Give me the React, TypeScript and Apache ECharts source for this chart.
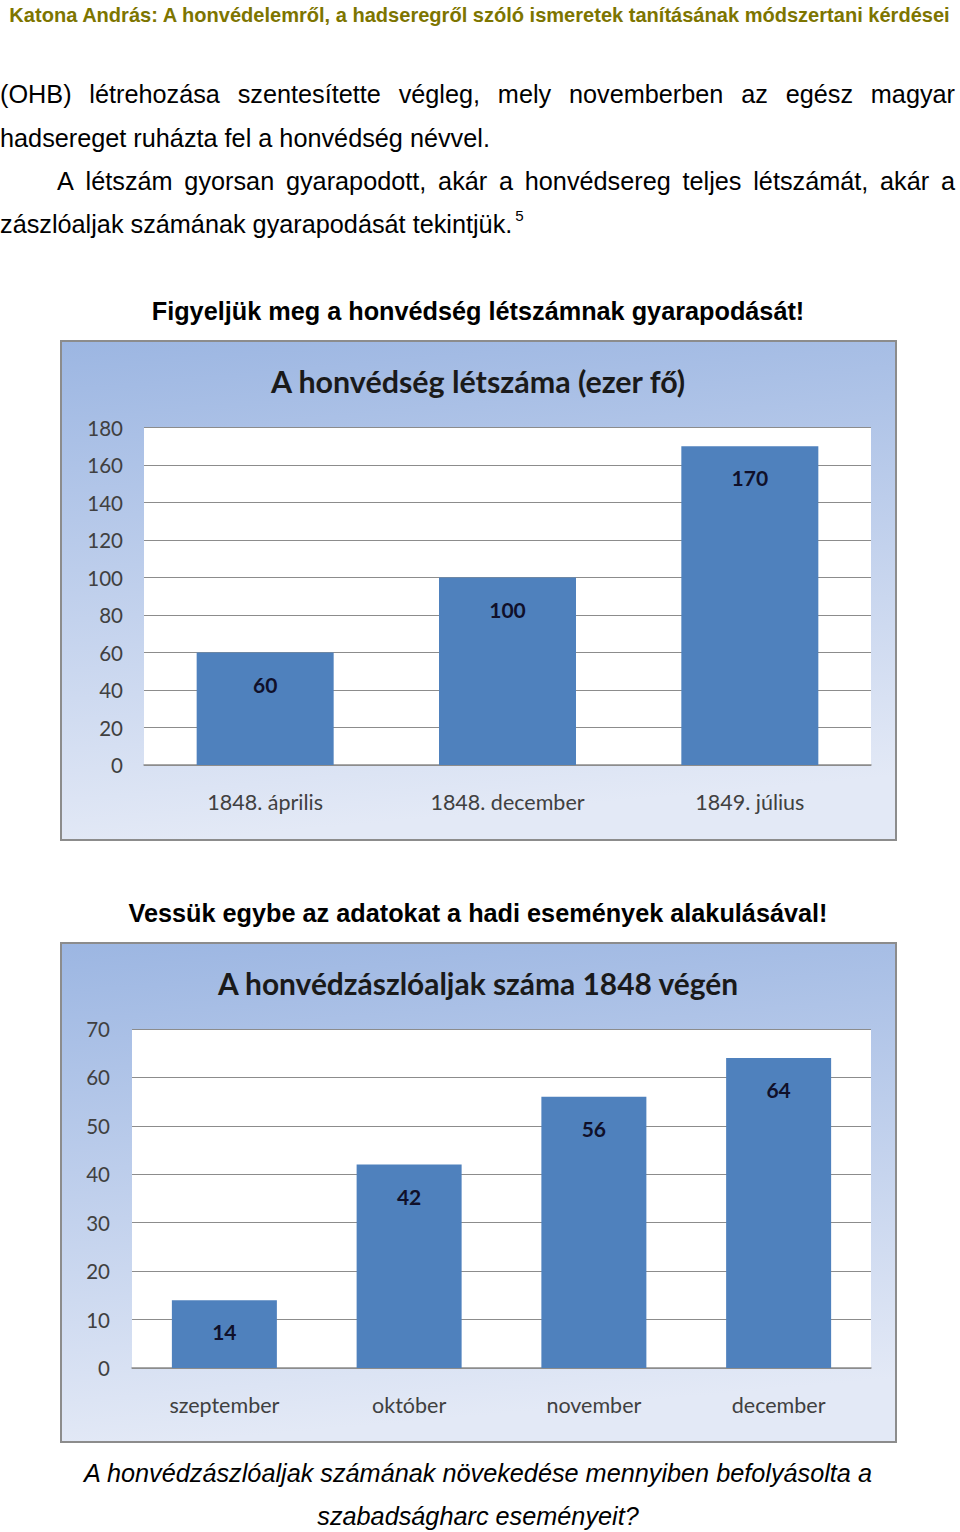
import React, { useEffect, useRef } from 'react';
import * as echarts from 'echarts';

// ---------- Data ----------
const chartATitle = 'A honvédség létszáma (ezer fő)';
const chartACategories = ['1848. április', '1848. december', '1849. július'];
const chartAValues = [60, 100, 170];
const chartAMax = 180;
const chartAInterval = 20;

const chartBTitle = 'A honvédzászlóaljak száma 1848 végén';
const chartBCategories = ['szeptember', 'október', 'november', 'december'];
const chartBValues = [14, 42, 56, 64];
const chartBMax = 70;
const chartBInterval = 10;

// ---------- Document text ----------
const headerText =
  'Katona András: A honvédelemről, a hadseregről szóló ismeretek tanításának módszertani kérdései';
const bodyLine1 = '(OHB) létrehozása szentesítette végleg, mely novemberben az egész magyar';
const bodyLine2 = 'hadsereget ruházta fel a honvédség névvel.';
const bodyLine3 = 'A létszám gyorsan gyarapodott, akár a honvédsereg teljes létszámát, akár a';
const bodyLine4 = 'zászlóaljak számának gyarapodását tekintjük.';
const footnoteMark = '5';
const headingA = 'Figyeljük meg a honvédség létszámnak gyarapodását!';
const headingB = 'Vessük egybe az adatokat a hadi események alakulásával!';
const questionLine1 = 'A honvédzászlóaljak számának növekedése mennyiben befolyásolta a';
const questionLine2 = 'szabadságharc eseményeit?';

const DOC_FONT = 'Liberation Sans';
const CHART_FONT = 'Lato';

let measureCtx: CanvasRenderingContext2D | null = null;
function measure(text: string, size: number, weight = 'normal', style = 'normal', family = DOC_FONT) {
  if (!measureCtx) measureCtx = document.createElement('canvas').getContext('2d');
  if (!measureCtx) return text.length * size * 0.5;
  measureCtx.font = `${style} ${weight} ${size}px "${family}"`;
  return measureCtx.measureText(text).width;
}
function fitSize(text: string, target: number, weight = 'normal', style = 'normal', family = DOC_FONT) {
  const w = measure(text, 100, weight, style, family);
  return (100 * target) / w;
}

function justified(text: string, x0: number, x1: number, y: number, size: number) {
  const words = text.split(' ');
  const widths = words.map((w) => measure(w, size));
  const total = widths.reduce((a, b) => a + b, 0);
  const gap = (x1 - x0 - total) / (words.length - 1);
  let x = x0;
  return words.map((w, i) => {
    const el = {
      type: 'text',
      x,
      y,
      style: {
        text: w,
        fontFamily: DOC_FONT,
        fontSize: size,
        fill: '#000',
        align: 'left',
        verticalAlign: 'middle',
      },
    };
    x += widths[i] + gap;
    return el;
  });
}

function txt(text: string, x: number, y: number, size: number, opts: any = {}) {
  return {
    type: 'text',
    x,
    y,
    z: 10,
    style: {
      text,
      fontFamily: opts.family || DOC_FONT,
      fontSize: size,
      fontWeight: opts.weight || 'normal',
      fontStyle: opts.style || 'normal',
      fill: opts.fill || '#000',
      align: opts.align || 'left',
      verticalAlign: 'middle',
    },
  };
}

function frame(y: number) {
  return {
    type: 'rect',
    z: -10,
    shape: { x: 61, y, width: 835, height: 499 },
    style: {
      fill: new echarts.graphic.LinearGradient(0, 0, 0.15, 1, [
        { offset: 0, color: '#9cb6e2' },
        { offset: 1, color: '#e3e9f6' },
      ]),
      stroke: '#8c8c8c',
      lineWidth: 2,
    },
  };
}

export default function App() {
  const ref = useRef<HTMLDivElement>(null);

  useEffect(() => {
    if (!ref.current) return;
    const chart = echarts.init(ref.current, null, { renderer: 'svg' });

    const headerSize = fitSize(headerText, 943, 'bold');
    const bodySize = fitSize(bodyLine2, 490);
    const headingSize = fitSize(headingA, 653, 'bold');
    const questionSize = fitSize(questionLine1, 789, 'normal', 'italic');
    const line4W = measure(bodyLine4, bodySize);
    const titleASize = fitSize(chartATitle, 416, 'bold', 'normal', CHART_FONT);
    const titleBSize = fitSize(chartBTitle, 522, 'bold', 'normal', CHART_FONT);

    const graphic: any[] = [
      frame(341),
      frame(943),
      txt(headerText, 479.5, 15, headerSize, { weight: 'bold', fill: '#7d7500', align: 'center' }),
      ...justified(bodyLine1, 0, 955, 94, bodySize),
      txt(bodyLine2, 0, 138, bodySize),
      ...justified(bodyLine3, 57, 955, 181, bodySize),
      txt(bodyLine4, 0, 224, bodySize),
      txt(footnoteMark, line4W + 3, 215, bodySize * 0.6),
      txt(headingA, 478, 311, headingSize, { weight: 'bold', align: 'center' }),
      txt(headingB, 478, 913, headingSize, { weight: 'bold', align: 'center' }),
      txt(chartATitle, 478, 381, titleASize, { weight: 'bold', family: CHART_FONT, fill: '#1a1a1a', align: 'center' }),
      txt(chartBTitle, 478, 983, titleBSize, { weight: 'bold', family: CHART_FONT, fill: '#1a1a1a', align: 'center' }),
      txt(questionLine1, 478, 1473, questionSize, { style: 'italic', align: 'center' }),
      txt(questionLine2, 478, 1516, questionSize, { style: 'italic', align: 'center' }),
    ];

    const yLabel = { fontFamily: CHART_FONT, fontSize: 20.5, color: '#404040' };
    const xLabel = { fontFamily: CHART_FONT, fontSize: 21.5, color: '#404040' };
    const barLabel = {
      show: true,
      position: 'insideTop',
      distance: 21,
      fontFamily: CHART_FONT,
      fontSize: 21,
      fontWeight: 'bold',
      color: '#10102a',
    };

    const option: any = {
      animation: false,
      graphic,
      grid: [
        { left: 144, top: 427.5, width: 727, height: 337.5, show: true, backgroundColor: '#ffffff', borderWidth: 0 },
        { left: 132, top: 1029, width: 739, height: 339, show: true, backgroundColor: '#ffffff', borderWidth: 0 },
      ],
      xAxis: [
        {
          type: 'category',
          gridIndex: 0,
          data: chartACategories,
          axisLine: { lineStyle: { color: '#8c8c8c', width: 1.5 } },
          axisTick: { show: false },
          axisLabel: { ...xLabel, margin: 26 },
        },
        {
          type: 'category',
          gridIndex: 1,
          data: chartBCategories,
          axisLine: { lineStyle: { color: '#8c8c8c', width: 1.5 } },
          axisTick: { show: false },
          axisLabel: { ...xLabel, margin: 26 },
        },
      ],
      yAxis: [
        {
          type: 'value',
          gridIndex: 0,
          min: 0,
          max: chartAMax,
          interval: chartAInterval,
          axisLine: { show: false },
          axisTick: { show: false },
          splitLine: { lineStyle: { color: '#8c8c8c', width: 1.2 } },
          axisLabel: { ...yLabel, margin: 21 },
        },
        {
          type: 'value',
          gridIndex: 1,
          min: 0,
          max: chartBMax,
          interval: chartBInterval,
          axisLine: { show: false },
          axisTick: { show: false },
          splitLine: { lineStyle: { color: '#8c8c8c', width: 1.2 } },
          axisLabel: { ...yLabel, margin: 22 },
        },
      ],
      series: [
        {
          type: 'bar',
          xAxisIndex: 0,
          yAxisIndex: 0,
          data: chartAValues,
          barWidth: 137,
          itemStyle: { color: '#4f81bd' },
          label: barLabel,
        },
        {
          type: 'bar',
          xAxisIndex: 1,
          yAxisIndex: 1,
          data: chartBValues,
          barWidth: 105,
          itemStyle: { color: '#4f81bd' },
          label: barLabel,
        },
      ],
    };

    chart.setOption(option);
    return () => chart.dispose();
  }, []);

  return (
    <div
      ref={ref}
      style={{ position: 'absolute', left: 0, top: 0, width: 960, height: 1532, background: '#ffffff' }}
    />
  );
}
